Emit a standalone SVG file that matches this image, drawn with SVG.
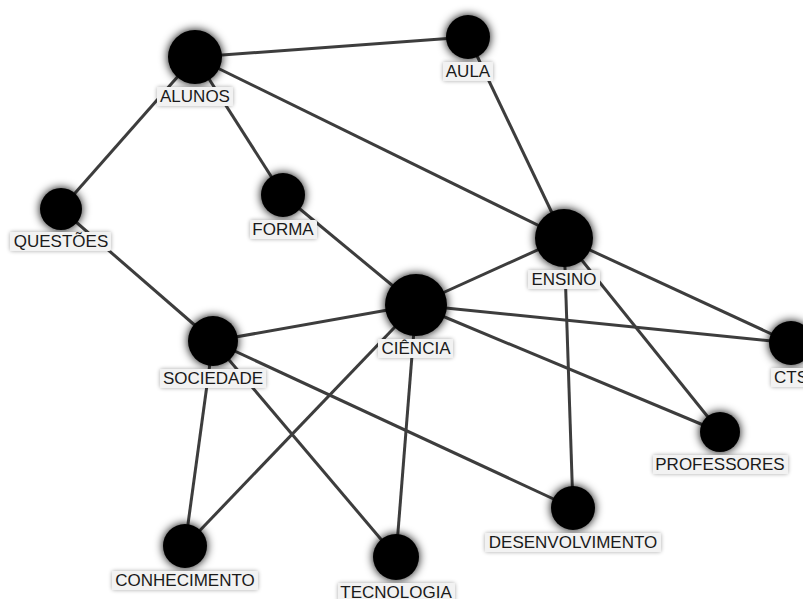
<svg xmlns="http://www.w3.org/2000/svg" width="803" height="599" viewBox="0 0 803 599">
<defs>
<filter id="glow" x="-60%" y="-60%" width="220%" height="220%">
<feGaussianBlur in="SourceAlpha" stdDeviation="5"/>
<feComponentTransfer><feFuncA type="linear" slope="1"/></feComponentTransfer>
<feMerge><feMergeNode/><feMergeNode in="SourceGraphic"/></feMerge>
</filter>
<filter id="lshadow" x="-20%" y="-50%" width="140%" height="200%">
<feGaussianBlur in="SourceAlpha" stdDeviation="2"/>
<feComponentTransfer><feFuncA type="linear" slope="0.35"/></feComponentTransfer>
<feMerge><feMergeNode/><feMergeNode in="SourceGraphic"/></feMerge>
</filter>
</defs>
<style>
.edge{stroke:#3d3d3d;stroke-width:3;fill:none}
.node{fill:#000;filter:url(#glow)}
.lbox{fill:#f2f2f2;filter:url(#lshadow)}
.lbl{font-family:"Liberation Sans",Arial,sans-serif;font-size:17px;fill:#1a1a1a;text-anchor:middle}
</style>
<rect width="803" height="599" fill="#fff"/>
<g id="connectors">
<line class="edge" x1="195" y1="57" x2="468" y2="37"/>
<line class="edge" x1="195" y1="57" x2="564" y2="238"/>
<line class="edge" x1="195" y1="57" x2="61" y2="209"/>
<line class="edge" x1="195" y1="57" x2="283" y2="195"/>
<line class="edge" x1="468" y1="37" x2="564" y2="238"/>
<line class="edge" x1="61" y1="209" x2="213" y2="341"/>
<line class="edge" x1="283" y1="195" x2="416" y2="305"/>
<line class="edge" x1="564" y1="238" x2="416" y2="305"/>
<line class="edge" x1="564" y1="238" x2="791" y2="343"/>
<line class="edge" x1="564" y1="238" x2="720" y2="432"/>
<line class="edge" x1="564" y1="238" x2="573" y2="508"/>
<line class="edge" x1="416" y1="305" x2="213" y2="341"/>
<line class="edge" x1="416" y1="305" x2="791" y2="343"/>
<line class="edge" x1="416" y1="305" x2="720" y2="432"/>
<line class="edge" x1="416" y1="305" x2="185" y2="546"/>
<line class="edge" x1="416" y1="305" x2="396" y2="557"/>
<line class="edge" x1="213" y1="341" x2="185" y2="546"/>
<line class="edge" x1="213" y1="341" x2="396" y2="557"/>
<line class="edge" x1="213" y1="341" x2="573" y2="508"/>
</g>
<g id="n-alunos"><circle class="node" cx="195" cy="57" r="27"/><rect class="lbox" x="157" y="87" width="76" height="19" rx="2"/><text class="lbl" x="195" y="102">ALUNOS</text></g>
<g id="n-aula"><circle class="node" cx="468" cy="37" r="22"/><rect class="lbox" x="443" y="62" width="50" height="19" rx="2"/><text class="lbl" x="468" y="77">AULA</text></g>
<g id="n-questoes"><circle class="node" cx="61" cy="209" r="21"/><rect class="lbox" x="10" y="232" width="101" height="19" rx="2"/><text class="lbl" x="61" y="247">QUESTÕES</text></g>
<g id="n-forma"><circle class="node" cx="283" cy="195" r="22"/><rect class="lbox" x="250" y="220" width="67" height="19" rx="2"/><text class="lbl" x="283" y="235">FORMA</text></g>
<g id="n-ensino"><circle class="node" cx="564" cy="238" r="29"/><rect class="lbox" x="528" y="270" width="72" height="19" rx="2"/><text class="lbl" x="564" y="285">ENSINO</text></g>
<g id="n-ciencia"><circle class="node" cx="416" cy="305" r="31"/><rect class="lbox" x="378" y="339" width="75" height="19" rx="2"/><text class="lbl" x="416" y="354">CIÊNCIA</text></g>
<g id="n-sociedade"><circle class="node" cx="213" cy="341" r="25"/><rect class="lbox" x="160" y="369" width="106" height="19" rx="2"/><text class="lbl" x="213" y="384">SOCIEDADE</text></g>
<g id="n-cts"><circle class="node" cx="791" cy="343" r="22"/><rect class="lbox" x="771" y="368" width="40" height="19" rx="2"/><text class="lbl" x="791" y="383">CTS</text></g>
<g id="n-professores"><circle class="node" cx="720" cy="432" r="20"/><rect class="lbox" x="653" y="455" width="135" height="19" rx="2"/><text class="lbl" x="720" y="470">PROFESSORES</text></g>
<g id="n-desenvolvimento"><circle class="node" cx="573" cy="508" r="22"/><rect class="lbox" x="485" y="533" width="176" height="19" rx="2"/><text class="lbl" x="573" y="548">DESENVOLVIMENTO</text></g>
<g id="n-conhecimento"><circle class="node" cx="185" cy="546" r="22"/><rect class="lbox" x="112" y="571" width="146" height="19" rx="2"/><text class="lbl" x="185" y="586">CONHECIMENTO</text></g>
<g id="n-tecnologia"><circle class="node" cx="396" cy="557" r="23"/><rect class="lbox" x="338" y="583" width="117" height="19" rx="2"/><text class="lbl" x="396" y="598">TECNOLOGIA</text></g>
</svg>
